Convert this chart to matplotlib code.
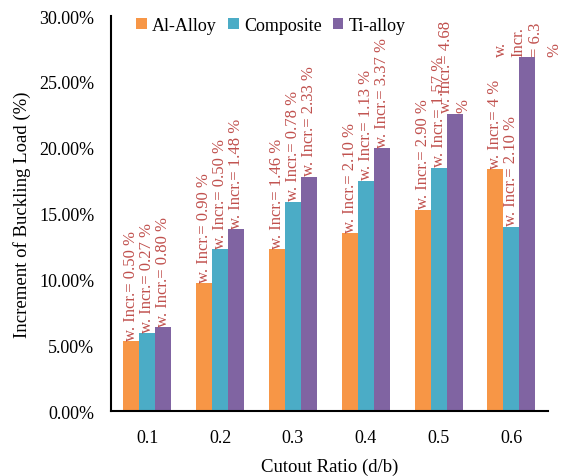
import matplotlib.pyplot as plt
import numpy as np

plt.rcParams['font.family'] = ['Liberation Serif', 'DejaVu Serif']

ratios = ['0.1', '0.2', '0.3', '0.4', '0.5', '0.6']
al_alloy = [5.3, 9.7, 12.3, 13.5, 15.3, 18.4]
composite = [5.9, 12.3, 15.9, 17.5, 18.5, 14.0]
ti_alloy = [6.4, 13.8, 17.8, 20.0, 22.6, 26.9]

al_labels = ['0.50', '0.90', '1.46', '2.10', '2.90', '4']
comp_labels = ['0.27', '0.50', '0.78', '1.13', '1.57', '2.10']
ti_labels = ['0.80', '1.48', '2.33', '3.37', '4.68', '6.3']

series = [('Al-Alloy', al_alloy, al_labels, '#F79646'),
          ('Composite', composite, comp_labels, '#4BACC6'),
          ('Ti-alloy', ti_alloy, ti_labels, '#8064A2')]

fig = plt.figure(figsize=(5.63, 4.77), dpi=100)
ax = fig.add_axes([0.197, 0.136, 0.776, 0.828])

x = np.arange(len(ratios))
w = 0.22
for i, (name, vals, labs, col) in enumerate(series):
    pos = x + (i - 1) * w
    ax.bar(pos, vals, w, color=col, label=name)
    for j, (p, v, lab) in enumerate(zip(pos, vals, labs)):
        txt = 'w. Incr.= ' + lab + ' %'
        if name == 'Ti-alloy' and j == 4:
            txt = 'w. Incr.= ' + lab + '\n%'
        if name == 'Ti-alloy' and j == 5:
            txt = 'w.\nIncr.\n= ' + lab + '\n%'
        ax.text(p, v + 0.1, txt, rotation=90, ha='center', va='bottom',
                multialignment='left', color='#C0504D', fontsize=12,
                linespacing=1.15)

ax.set_xlim(-0.5, 5.5)
ax.set_ylim(0, 30)
ax.set_xticks(x)
ax.set_xticklabels(ratios)
ax.set_yticks(np.arange(0, 31, 5))
ax.set_yticklabels(['%.2f%%' % t for t in np.arange(0, 31, 5)])
ax.tick_params(length=0, labelsize=13)
ax.tick_params(axis='x', pad=13)
ax.tick_params(axis='y', pad=12)
for s in ['top', 'right']:
    ax.spines[s].set_visible(False)
for s in ['left', 'bottom']:
    ax.spines[s].set_linewidth(1.5)

ax.set_ylabel('Increment of Buckling Load (%)', fontsize=13.5, labelpad=6)
ax.set_xlabel('Cutout Ratio (d/b)', fontsize=13.5, labelpad=8)

ax.legend(loc='upper left', ncol=3, frameon=False, fontsize=13,
          handlelength=0.6, handleheight=0.6, handletextpad=0.3,
          columnspacing=0.6, bbox_to_anchor=(0.02, 1.04))

plt.savefig('out.png', dpi=100)
